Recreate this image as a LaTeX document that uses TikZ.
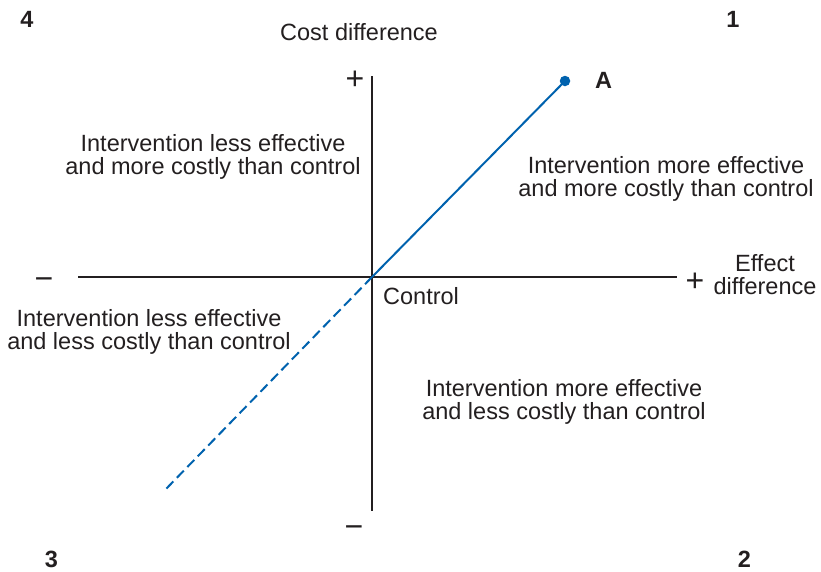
\documentclass[tikz,border=0pt]{standalone}
\usepackage{fontspec}
\setmainfont{Liberation Sans}
\definecolor{axisgray}{HTML}{231F20}
\definecolor{lineblue}{HTML}{0062AE}
\tikzset{
  axisline/.style={draw=axisgray, line width=2.1pt},
  costline/.style={draw=lineblue, line width=2pt},
  costdash/.style={draw=lineblue, line width=2pt, dash pattern=on 10pt off 5pt},
  lbl/.style={inner sep=0pt, text=axisgray, font=\fontsize{23.5}{23}\selectfont},
  quad/.style={lbl, align=center},
  qnum/.style={inner sep=0pt, text=axisgray, font=\fontsize{23.5}{23}\selectfont\bfseries, anchor=base},
  sign/.style={inner sep=0pt, text=axisgray, font=\fontsize{32}{32}\selectfont, anchor=base},
  dot/.style={circle, fill=lineblue, inner sep=0pt, minimum size=10.5pt}
}
\begin{document}
\begin{tikzpicture}[x=1pt, y=-1pt]
\useasboundingbox (0,0) rectangle (821,571);
% axes
\coordinate (O) at (372,277);
\coordinate (xl) at (78,277);
\coordinate (xr) at (677,277);
\coordinate (yt) at (372,76);
\coordinate (yb) at (372,511);
\draw[axisline] (xl) -- (xr);
\draw[axisline] (yt) -- (yb);
% cost-effectiveness line
\node[dot] (A) at (565,81) {};
\coordinate (D) at (165,490);
\draw[costline] (O) -- (A.center);
\draw[costdash] (O) -- (D);
\node[qnum] (Alab) at (603.5,88) {A};
% axis labels
\node[lbl, anchor=base] (cost) at (359,40.7) {Cost difference};
\node[quad] (effect) at (765,274.8) {Effect\\difference};
\node[lbl, anchor=base west] (control) at (383,304) {Control};
% signs
\node[sign] (ptop) at (355,89) {+};
\node[sign] (pright) at (695,291) {+};
\node[sign] (mleft) at (44,289) {−};
\node[sign] (mbottom) at (354,537) {−};
% quadrant texts
\node[quad] (ul) at (213,157.4) {Intervention less effective\\and more costly than control};
\node[quad] (ur) at (666,178.8) {Intervention more effective\\and more costly than control};
\node[quad] (ll) at (149,331.9) {Intervention less effective\\and less costly than control};
\node[quad] (lr) at (564,402.2) {Intervention more effective\\and less costly than control};
% quadrant numbers
\node[qnum] (q4) at (27,27) {4};
\node[qnum] (q1) at (733,27) {1};
\node[qnum] (q3) at (51.5,567) {3};
\node[qnum] (q2) at (744.5,567) {2};
\end{tikzpicture}
\end{document}
